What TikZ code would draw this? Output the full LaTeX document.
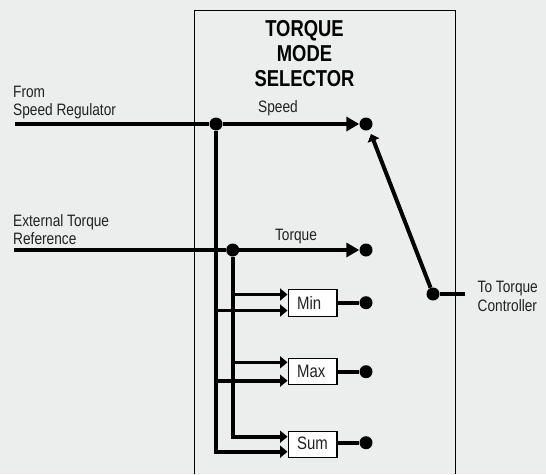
\documentclass[tikz,border=0pt]{standalone}
\usepackage{fontspec}
\usetikzlibrary{arrows.meta}
\setmainfont{Liberation Sans}
\newfontfamily\lbl[FakeStretch=0.83]{Liberation Sans}
\newfontfamily\ttl[FakeStretch=0.8]{Liberation Sans Bold}
\definecolor{bgc}{HTML}{ECEEEE}
\definecolor{ink}{HTML}{222222}
\tikzset{
 x=1pt,y=-1pt,
 wire/.style={draw=black,line width=4pt},
 big/.style={wire,-{Triangle[length=13pt,width=14pt]}},
 small/.style={draw=black,line width=3.6pt,-{Triangle[length=7.5pt,width=12pt]}},
 dot/.style={circle,fill=black,inner sep=0pt,minimum size=13pt},
 fn/.style={draw=black,line width=1.4pt,fill=white,minimum width=48.5pt,minimum height=26.5pt,inner sep=0pt},
 boxtxt/.style={inner sep=0pt,anchor=west,font=\lbl\fontsize{18}{20}\selectfont,text=ink},
 lab/.style={inner sep=0pt,align=left,anchor=west,font=\lbl\fontsize{16.5}{18.5}\selectfont,text=ink},
 title/.style={inner sep=0pt,align=center,font=\ttl\fontsize{23}{25}\selectfont,text=black},
 frame/.style={draw=black,line width=1.3pt}
}
\begin{document}
\begin{tikzpicture}
\useasboundingbox (0,0) rectangle (546,474);
\fill[bgc] (0,0) rectangle (546,474);
\draw[frame] (194.5,474) -- (194.5,10.5) -- (455.5,10.5) -- (455.5,474);
\node[title] (ttl) at (304.5,54) {TORQUE\\MODE\\SELECTOR};
\node[lab] (from) at (13,102.5) {From\\Speed Regulator};
\node[lab] (ext) at (13,229.5) {External Torque\\Reference};
\node[lab,anchor=center] (spd) at (278,108) {Speed};
\node[lab,anchor=center] (trq) at (296,237) {Torque};
\node[lab] (tot) at (477.5,296.5) {To Torque\\Controller};
\coordinate (inS) at (15,124);
\coordinate (inT) at (14,250);
\coordinate (outR) at (465,294);
\node[dot] (jS) at (216,124) {};
\node[dot] (jT) at (232.7,250) {};
\node[dot] (dS) at (366,124) {};
\node[dot] (dT) at (366,250) {};
\node[dot] (dMin) at (366,302.7) {};
\node[dot] (dMax) at (366,371.7) {};
\node[dot] (dSum) at (366,442.7) {};
\node[dot] (pivot) at (433,294) {};
\node[fn] (Min) at (312.7,303) {};
\node[fn] (Max) at (312.7,371.5) {};
\node[fn] (Sum) at (312.7,444.5) {};
\node[boxtxt] (tMin) at (297,303) {Min};
\node[boxtxt] (tMax) at (297,371.5) {Max};
\node[boxtxt] (tSum) at (297,443.5) {Sum};
\coordinate (tip) at (371,134);
\coordinate (minA) at (287.5,294.5);
\coordinate (minB) at (287.5,310.5);
\coordinate (maxA) at (287.5,362.3);
\coordinate (maxB) at (287.5,380.7);
\coordinate (sumA) at (287.5,436.7);
\coordinate (sumB) at (287.5,451.7);
\coordinate (vS) at (216,451.7);
\coordinate (vT) at (232.7,436.7);
\draw[wire] (inS) -- (jS);
\draw[wire] (inT) -- (jT);
\draw[big] (jS) -- (dS);
\draw[big] (jT) -- (dT);
\draw[wire] (jS) -- (216,453.5);
\draw[wire] (jT) -- (232.7,438.5);
\draw[small] (232.7,294.5) -- (minA);
\draw[small] (216,310.5) -- (minB);
\draw[small] (232.7,362.3) -- (maxA);
\draw[small] (216,380.7) -- (maxB);
\draw[small] (vT) -- (sumA);
\draw[small] (vS) -- (sumB);
\draw[wire] (Min.east |- dMin) -- (dMin);
\draw[wire] (Max.east |- dMax) -- (dMax);
\draw[wire] (Sum.east |- dSum) -- (dSum);
\draw[wire] (pivot) -- (outR);
\draw[draw=black,line width=4pt,-{Triangle[length=7pt,width=12pt]}] (pivot) -- (tip);
\end{tikzpicture}
\end{document}
